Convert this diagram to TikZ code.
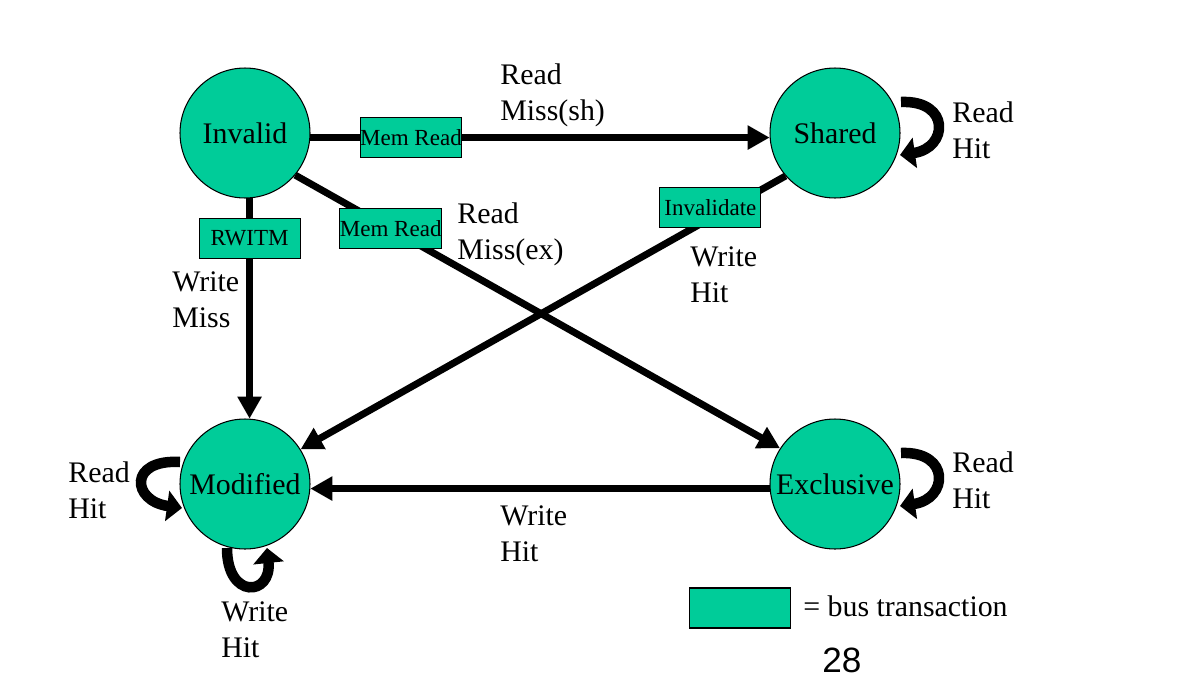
\documentclass[tikz,border=0pt]{standalone}
\usepackage{fontspec}
\setmainfont{Liberation Serif}
\newfontfamily\numfont{Liberation Sans}
\usetikzlibrary{
  arrows.meta,
  positioning
}
\definecolor{busgreen}{RGB}{0,204,153}

\begin{document}
\begin{tikzpicture}[x=0.02cm, y=-0.02cm,
    state/.style={circle, draw=black, line width=0.6pt, fill=busgreen,
      minimum size=2.6cm, inner sep=0pt, font=\fontsize{17}{20.4}\selectfont},
    busbox/.style={draw=black, line width=0.6pt, fill=busgreen,
      minimum width=2.02cm, minimum height=0.8cm, inner sep=0pt,
      font=\fontsize{13.1}{15}\selectfont},
    trans/.style={line width=0.14cm, -{Triangle[length=0.44cm,width=0.46cm]}},
    hitloop/.style={line width=0.21cm, -{Triangle[length=0.3cm,width=0.6cm]}},
    lbl/.style={anchor=west, align=left, inner sep=0pt,
      font=\fontsize{17}{20.4}\selectfont}]
            \useasboundingbox (0, 0) rectangle (1178, 690);

            % states
            \node[state] (inv) at (245, 133) {Invalid};
            \node[state] (shd) at (835, 133) {Shared};
            \node[state] (mod) at (245, 484) {Modified};
            \node[state] (exc) at (835, 484) {Exclusive};

            % transitions
            \draw[trans] (inv.-4) --
            node[busbox, pos=0.219] (rd1) {Mem Read}
            (shd.184);
            \draw[trans] (inv.-86) --
            node[busbox, pos=0.182] (rwitm) {RWITM}
            (mod.86);
            \draw[trans] (inv.-40) --
            node[busbox, pos=0.197] (rd2) {Mem Read}
            (exc.147);
            \draw[trans] (shd.221) --
            node[busbox, pos=0.155, yshift=0.21cm] (inval) {Invalidate}
            (mod.32);
            \draw[trans] (exc.184) -- (mod.-4);

            % hits
            \draw[hitloop] ([shift={(66,-31)}]shd.center)
            .. controls +(50,-2) and +(48,-7) .. ([shift={(65,22)}]shd.center);
            \draw[hitloop] ([shift={(66,-31)}]exc.center)
            .. controls +(50,-2) and +(48,-7) .. ([shift={(65,22)}]exc.center);
            \draw[hitloop] ([shift={(-65,-22)}]mod.center)
            .. controls +(-52,-3) and +(-50,-7) .. ([shift={(-63,24)}]mod.center);
            \draw[hitloop] ([shift={(-18,64)}]mod.center)
            .. controls +(0,52) and +(5,48) .. ([shift={(22,64)}]mod.center);

            % labels
            \node[lbl] (l1) at (500, 95) {Read\\Miss(sh)};
            \node[lbl] (l2) at (457, 234) {Read\\Miss(ex)};
            \node[lbl] (l3) at (172, 300) {Write\\Miss};
            \node[lbl] (l4) at (690, 275) {Write\\Hit};
            \node[lbl] (l5) at (952, 130) {Read\\Hit};
            \node[lbl] (l6) at (68, 490) {Read\\Hit};
            \node[lbl] (l7) at (500, 534) {Write\\Hit};
            \node[lbl] (l8) at (952, 480) {Read\\Hit};
            \node[lbl] (l9) at (221, 630) {Write\\Hit};

            % legend
            \node[busbox] (key) at (740, 608) {};
            \node[lbl] (keytext) at (803, 606) {= bus transaction};
            \node (page) at (842, 660) {\numfont\fontsize{20}{24}\selectfont 28};
          \end{tikzpicture}
\end{document}
